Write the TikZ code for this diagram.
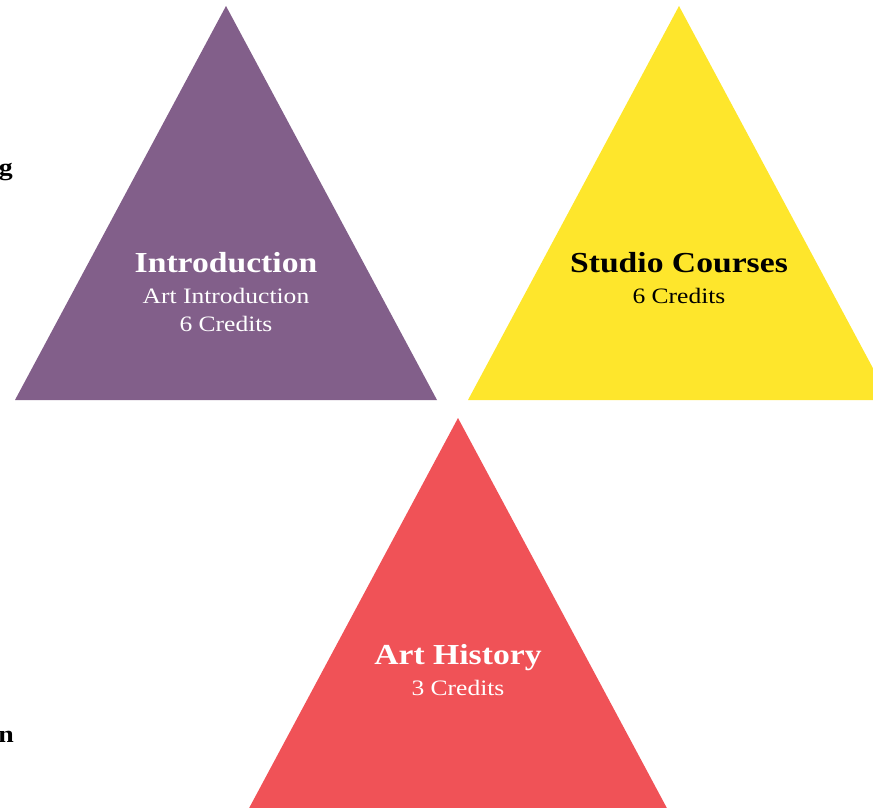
\documentclass[tikz,border=0pt]{standalone}
\usepackage{fontspec}
\setmainfont{Liberation Serif}[FakeStretch=1.16]
\definecolor{purp}{HTML}{825F8A}
\definecolor{yel}{HTML}{FEE62C}
\definecolor{redc}{HTML}{F05257}
\begin{document}
\begin{tikzpicture}[x=1pt,y=-1pt,
  title/.style={font=\fontsize{29}{32}\selectfont\bfseries, inner sep=0pt, anchor=base},
  sub/.style={font=\fontsize{22}{26}\selectfont, inner sep=0pt, anchor=base},
  frag/.style={font=\fontsize{24}{26}\selectfont\bfseries, inner sep=0pt, anchor=base east}]
\useasboundingbox (0,0) rectangle (873,808);
\clip (0,0) rectangle (873,808);
\fill[purp] (226,6) -- (437,400) -- (15,400) -- cycle;
\fill[yel] (679,6) -- (890,400) -- (468,400) -- cycle;
\fill[redc] (458,418) -- (669,812) -- (247,812) -- cycle;
\node[title, text=white] (t1) at (226,272) {Introduction};
\node[sub, text=white] (s1) at (226,303) {Art Introduction};
\node[sub, text=white] (s1b) at (226,331) {6 Credits};
\node[title, text=black] (t2) at (679,272) {Studio Courses};
\node[sub, text=black] (s2) at (679,303) {6 Credits};
\node[title, text=white] (t3) at (458,664) {Art History};
\node[sub, text=white] (s3) at (458,695) {3 Credits};
\node[frag] (f1) at (13,175) {g};
\node[frag] (f2) at (14,742) {n};
\end{tikzpicture}
\end{document}
